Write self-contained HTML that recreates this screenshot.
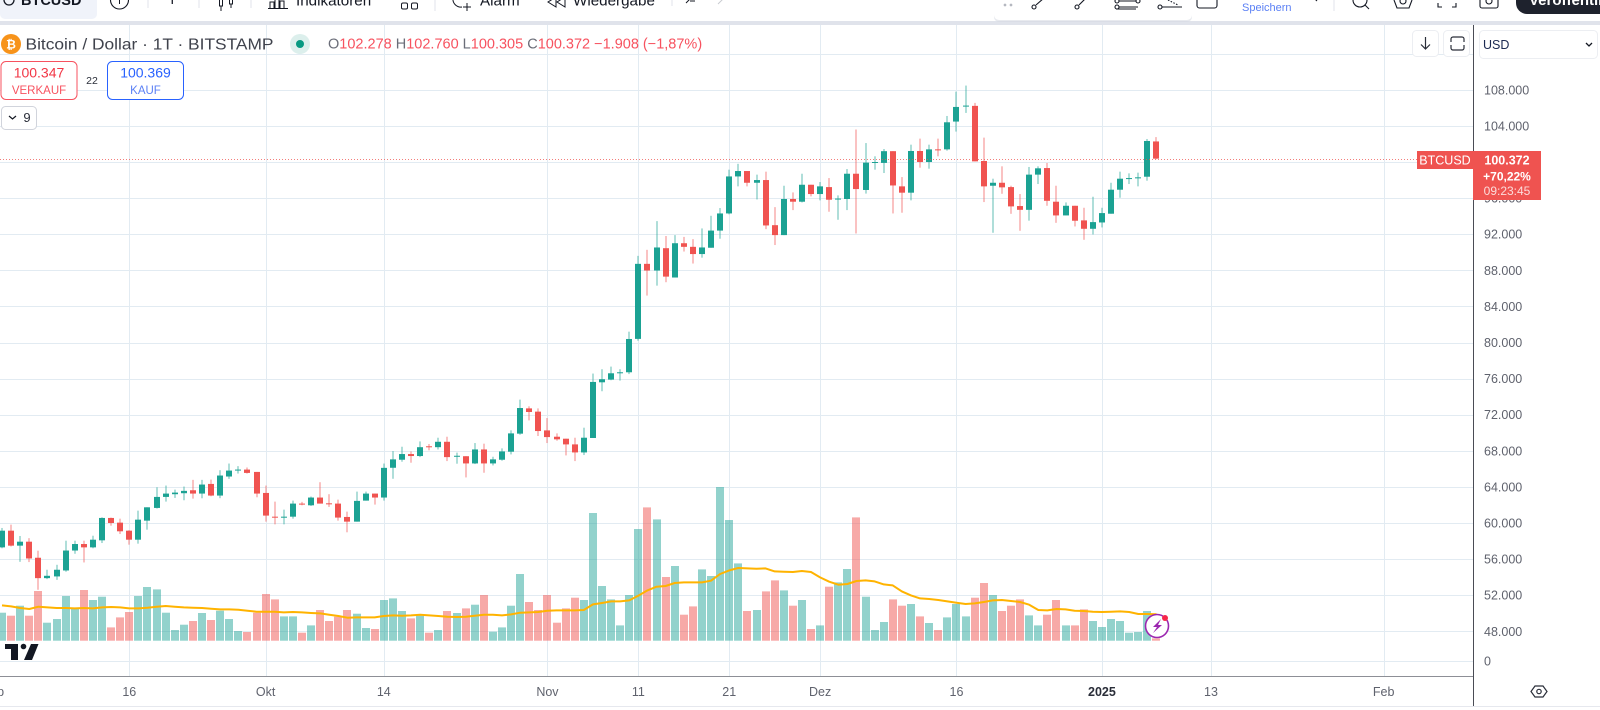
<!DOCTYPE html>
<html lang="de">
<head>
<meta charset="utf-8">
<title>BTCUSD Chart</title>
<style>
html,body{margin:0;padding:0;background:#fff;width:1600px;height:710px;overflow:hidden}
svg{display:block}
text{font-family:"Liberation Sans",sans-serif}
</style>
</head>
<body>
<svg id="chart" xmlns="http://www.w3.org/2000/svg" width="1600" height="710" viewBox="0 0 1600 710">
  <rect x="0" y="0" width="1600" height="710" fill="#ffffff"/>
  <g id="grid"></g>
  <g id="volumes"></g>
  <polyline id="maLine" fill="none" stroke="#ffb300" stroke-width="2" stroke-linejoin="round"/>
  <g id="candles"></g>
  <line id="priceLine" x1="0" x2="1417" stroke="#ef5350" stroke-width="1" stroke-dasharray="1 2" opacity="0.75"/>

  <!-- top toolbar -->
  <rect x="0" y="21" width="1600" height="4" fill="#e0e3eb"/>
  <rect x="0" y="-6" width="97" height="25" rx="5" fill="#f0f3fa"/>
  <circle cx="9" cy="0" r="5" fill="none" stroke="#131722" stroke-width="1.3"/>
  <text x="21" y="5" font-size="14.5" font-weight="700" fill="#131722">BTCUSD</text>
  <circle cx="119.5" cy="0" r="9" fill="none" stroke="#131722" stroke-width="1.1"/>
  <line x1="119.5" y1="-2" x2="119.5" y2="4" stroke="#131722"/>
  <line x1="148" y1="0" x2="148" y2="8" stroke="#e0e3eb"/>
  <text x="168" y="4" font-size="14" fill="#131722">T</text>
  <line x1="199" y1="0" x2="199" y2="8" stroke="#e0e3eb"/>
  <g fill="none" stroke="#131722">
    <rect x="219.5" y="-1" width="3" height="7"/><line x1="221" y1="6" x2="221" y2="11"/>
    <rect x="229.5" y="-1" width="3" height="5"/><line x1="231" y1="4" x2="231" y2="8"/>
  </g>
  <line x1="251" y1="0" x2="251" y2="8" stroke="#e0e3eb"/>
  <g fill="none" stroke="#131722">
    <path d="M268 8.5H288M270 8V2h4v6M275 8V-1h4v9M280 8V1h4v7"/>
  </g>
  <text x="296" y="5.5" font-size="15.2" fill="#131722">Indikatoren</text>
  <rect x="401.5" y="3" width="6" height="6" rx="1.5" fill="#fff" stroke="#131722"/>
  <rect x="411.5" y="3" width="6" height="6" rx="1.5" fill="#fff" stroke="#131722"/>
  <line x1="435" y1="0" x2="435" y2="11" stroke="#e0e3eb"/>
  <g fill="none" stroke="#131722">
    <path d="M453 -2a8 8 0 0 0 9 9"/><path d="M467 3v8M463 7h8"/>
  </g>
  <text x="480" y="5.5" font-size="15.2" fill="#131722">Alarm</text>
  <g fill="none" stroke="#131722">
    <path d="M556 -3l-8 5 8 5zM565 -3l-8 5 8 5z"/>
  </g>
  <text x="573" y="5.5" font-size="15.2" fill="#131722">Wiedergabe</text>
  <line x1="672" y1="0" x2="672" y2="6" stroke="#e0e3eb"/>
  <path d="M686 3l5-5M690 1h5" fill="none" stroke="#131722"/>
  <path d="M718 4l5-5" fill="none" stroke="#c9cbd1"/>

  <!-- floating drawing toolbar -->
  <rect x="994" y="-6" width="198" height="28" rx="5" fill="#d6d9e2" opacity=".55"/>
  <rect x="994" y="-8" width="198" height="28" rx="5" fill="#ffffff"/>
  <g fill="none" stroke="#131722" stroke-width="1.1">
    <circle cx="1005" cy="5" r=".8" stroke="#b2b5be"/><circle cx="1011" cy="5" r=".8" stroke="#b2b5be"/>
    <circle cx="1034" cy="7" r="2"/><path d="M1036 5l8-7"/>
    <circle cx="1077" cy="7" r="2"/><path d="M1079 5l8-8"/>
    <circle cx="1117" cy="1" r="2"/><circle cx="1117" cy="7" r="2"/><path d="M1119 1h17M1119 7h19M1116 9h20"/><circle cx="1138" cy="1" r="2"/>
    <circle cx="1160" cy="7" r="2"/><path d="M1162 7h20"/><path d="M1168 0l10 5" stroke-dasharray="1.5 1.5"/>
  </g>
  <rect x="1197" y="-6" width="20" height="14" rx="2.5" fill="none" stroke="#131722" stroke-width="1.1"/>
  <text x="1242" y="11" font-size="11" fill="#5b80f5">Speichern</text>
  <line x1="1334" y1="0" x2="1334" y2="11" stroke="#e0e3eb"/>
  <g fill="none" stroke="#131722" stroke-width="1.1">
    <path d="M1317 1l-2-2"/>
    <circle cx="1360" cy="0" r="7"/><path d="M1365 5l4 4"/>
    <path d="M1394 0l3 8h12l3-8"/><circle cx="1403" cy="1" r="3"/>
    <path d="M1438 3v4h4M1452 7h4V3"/>
    <rect x="1480" y="-4" width="18" height="12" rx="2"/><circle cx="1489" cy="1" r="3"/>
  </g>
  <rect x="1516" y="-12" width="100" height="26" rx="11" fill="#1e222d"/>
  <text x="1529" y="5" font-size="15" font-weight="700" fill="#ffffff">Veröffentlichen</text>

  <!-- legend -->
  <circle cx="11" cy="44" r="10" fill="#f7931a"/>
  <text x="11" y="48.5" font-size="12" font-weight="700" text-anchor="middle" fill="#ffffff">₿</text>
  <text x="25.5" y="49.5" font-size="16" fill="#3f424c" textLength="248" lengthAdjust="spacingAndGlyphs">Bitcoin / Dollar · 1T · BITSTAMP</text>
  <circle cx="300" cy="44" r="10" fill="#dcefec"/>
  <circle cx="300" cy="44" r="4" fill="#089981"/>
  <text x="328" y="48.5" font-size="14.5" fill="#f7525f"><tspan fill="#6a6d78">O</tspan>102.278 <tspan fill="#6a6d78">H</tspan>102.760 <tspan fill="#6a6d78">L</tspan>100.305 <tspan fill="#6a6d78">C</tspan>100.372 −1.908 (−1,87%)</text>

  <rect x="1" y="61.5" width="76" height="38" rx="5" fill="#ffffff" stroke="#f7525f"/>
  <text x="39" y="77.5" font-size="14" text-anchor="middle" fill="#f23645">100.347</text>
  <text x="39" y="94" font-size="11.5" text-anchor="middle" fill="#f7525f">VERKAUF</text>
  <text x="92" y="84" font-size="10.5" text-anchor="middle" fill="#2a2e39">22</text>
  <rect x="107.5" y="61.5" width="76" height="38" rx="5" fill="#ffffff" stroke="#2962ff"/>
  <text x="145.5" y="77.5" font-size="14" text-anchor="middle" fill="#2962ff">100.369</text>
  <text x="145.5" y="94" font-size="11.5" text-anchor="middle" fill="#5b80f5">KAUF</text>
  <rect x="1.5" y="106.5" width="35" height="23" rx="4" fill="#ffffff" stroke="#d1d4dc"/>
  <path d="M9 116l3.5 3 3.5-3" fill="none" stroke="#131722" stroke-width="1.2"/>
  <text x="27" y="122" font-size="13" text-anchor="middle" fill="#2a2e39">9</text>

  <!-- axes -->
  <line x1="0" y1="676.5" x2="1473" y2="676.5" stroke="#8d8f96"/>
  <line x1="0" y1="706.5" x2="1600" y2="706.5" stroke="#e6e8ee"/>
  <line x1="1473.5" y1="25" x2="1473.5" y2="706" stroke="#4a4c55"/>
  <g id="timeTicks"></g>
  <g id="priceTicks"></g>

  <!-- currency and chart buttons -->
  <rect x="1479.5" y="30.5" width="118" height="28" rx="4" fill="#ffffff" stroke="#eceef2"/>
  <text x="1483" y="49" font-size="12.5" fill="#1c2a52">USD</text>
  <path d="M1586 43l3 3 3-3" fill="none" stroke="#131722" stroke-width="1.3"/>
  <rect x="1412.5" y="30.5" width="26" height="26" rx="4" fill="#ffffff" stroke="#eceef2"/>
  <path d="M1425.5 37v12M1421 44.5l4.5 4.5 4.5-4.5" fill="none" stroke="#2a2e39" stroke-width="1.2"/>
  <rect x="1443.5" y="30.5" width="26" height="26" rx="4" fill="#ffffff" stroke="#eceef2"/>
  <path d="M1451 42v-3a2 2 0 0 1 2-2h9a2 2 0 0 1 2 2v3M1451 45v3a2 2 0 0 0 2 2h9a2 2 0 0 0 2-2v-3" fill="none" stroke="#2a2e39" stroke-width="1.2"/>

  <!-- last price labels -->
  <rect x="1417" y="151" width="56" height="18" fill="#ef5350"/>
  <text x="1445" y="164.5" font-size="12.5" text-anchor="middle" fill="#ffffff">BTCUSD</text>
  <rect x="1473" y="151" width="68" height="49" fill="#ef5350"/>
  <text id="lastPrice" x="1507" y="164.5" font-size="12.5" font-weight="700" text-anchor="middle" fill="#ffffff">100.372</text>
  <text x="1507" y="180.5" font-size="12" font-weight="700" text-anchor="middle" fill="#ffffff">+70,22%</text>
  <text x="1507" y="195" font-size="12" text-anchor="middle" fill="#fbdcdb">09:23:45</text>

  <!-- logo and badges -->
  <g fill="#131722">
    <path d="M5 644h13v16h-7v-11H5z"/>
    <circle cx="23.5" cy="646.5" r="2.8"/>
    <path d="M31 644h7.5l-6.5 16h-8z"/>
  </g>
  <circle cx="1157" cy="626" r="11.5" fill="#ffffff" stroke="#9c27b0" stroke-width="1.6"/>
  <path d="M1161 619l-8 8h4l-4 6 9-8h-4z" fill="#9c27b0"/>
  <circle cx="1165" cy="618" r="3" fill="#f7254a"/>
  <g fill="none" stroke="#2a2e39" stroke-width="1.2">
    <path d="M1535 686h8l4 5.5-4 5.5h-8l-4-5.5z"/><circle cx="1539" cy="691.5" r="2.2"/>
  </g>
</svg>

<script>
var firstDate = "2024-09-02";
var opens = [
  57300,59150,57490,57930,56150,53890,54080,54740,56950,57670,57300,58080,60560,60040,59150,58150,60260,61670,62890,63190,63300,63630,63260,64330,63040,65150,65850,65920,65660,
  63330,60700,60600,60700,62150,61960,62820,62180,62150,60670,60150,62480,63260,62820,66120,67010,67640,67420,68500,68400,69000,67350,67400,66600,68150,66600,67010,67900,69900,72700,72340,
  70260,69560,69340,68710,67820,69420,75590,75890,76590,76700,80400,88715,87975,90450,87200,91000,90600,89800,90500,92400,94300,98400,99000,97700,98000,93000,91900,95900,95600,97480,
  96450,97220,95900,95900,98700,96900,99930,99900,101200,97300,96600,101220,100000,101400,101400,104480,106150,106220,100110,97370,97700,97220,95120,94700,98600,99330,95600,94080,95150,93530,92600,
  93300,94270,96930,98150,98220,98370,102278
];
var highs = [
  59450,59820,58560,58320,56930,54820,55370,58040,58040,58040,58590,60630,60600,60480,59200,61370,61740,63960,64150,63700,64040,64780,64780,64810,65850,66590,66300,66150,65660,
  64150,62370,61480,62480,62340,62930,64520,63190,62590,61260,63480,63480,63260,66590,67970,68450,67930,69040,68750,69450,69560,67800,67400,68860,68790,67340,68270,70270,73670,72930,72700,
  71630,69930,69340,69450,70560,76560,77040,77330,77040,81200,89600,90270,93450,91800,91900,91700,91450,92640,94040,94900,99150,99800,99000,98600,98930,95000,97370,96630,98700,97480,
  97780,98220,96300,99220,103600,102100,100630,101440,101200,98330,101920,102590,101920,102590,105100,107800,108470,106550,102700,98150,99520,97370,96450,99450,99520,99890,97370,95520,95150,94930,96150,
  94930,97700,98930,98740,98820,102550,102760
];
var lows = [
  57200,57400,55700,55670,52600,53780,53700,54600,56590,55630,57200,57780,59700,58780,57600,57710,59260,61600,62370,62780,62520,62700,62740,62960,62750,64890,65480,65480,62850,
  60150,59850,59850,60480,61960,61890,62150,61780,60260,58970,60150,62480,62040,62480,64900,66790,66680,67300,68050,68150,66860,66570,65050,66530,65570,66380,66900,67600,69780,71370,69640,
  68860,69120,67490,66860,67530,69420,74600,75820,75780,76500,80200,85200,86300,86680,87200,90080,88750,89400,90500,91500,94200,97300,97300,95850,92560,90800,91900,94670,95520,96190,
  95750,94490,93600,94670,92080,96500,99150,98780,94300,94380,95750,99370,99260,100630,101260,103370,105440,100070,95560,92160,96480,94260,92380,93500,97560,95150,93260,94080,92860,91380,91970,
  92750,94270,96040,97560,97300,97930,100305
];
var closes = [
  59150,57490,57930,56070,53890,54150,54820,56950,57670,57300,58150,60560,60000,59080,58150,60370,61740,62890,63260,63370,63560,63260,64260,63040,65260,65810,65920,65550,63260,
  60820,60600,60700,62150,62070,62820,62150,62120,60600,60150,62450,63260,62820,66110,67050,67640,67420,68400,68400,69000,67300,67450,66600,68150,66600,67050,67930,69930,72740,72300,70190,
  69520,69270,68710,67820,69450,75630,75930,76590,76700,80390,88715,87975,90530,87300,91000,90600,89800,90530,92400,94300,98400,99000,97700,98000,92970,91900,95900,95600,97480,96450,
  97300,95820,95950,98700,97000,99930,100000,101200,97400,96600,101220,100000,101400,101350,104400,106100,106250,100070,97300,97700,97190,95080,94700,98600,99300,95700,94080,95150,93490,92600,93340,
  94340,96930,98150,98220,98300,102330,100372
];
var volumes = [
  28,25,35,25,49.7,18,21.7,44.7,31.7,50.7,40.7,44,13.3,23.3,28.7,44.7,53.7,51.3,28,10.7,16,19.7,27.7,20.7,30,21.7,9.7,8.7,28,
  46.7,41.3,24.3,24.3,8,15.3,30.7,19.7,24,30.7,27,12.7,11.7,40.7,42.3,29.7,22.3,25,8,10.7,29.7,27.7,32.3,36,45.7,9,13.3,35,66.7,38.7,30.7,
  45.7,18,32.3,43,40.7,127.7,54.7,41.3,15.3,45.7,111.7,133.3,121.3,63.7,74.7,26,34.3,71.3,64.7,153.7,120.7,77.3,29.7,30.7,49.3,60.3,50.3,35,40.7,11.7,
  15.3,54,58.3,71.7,123.3,44,10.7,18.7,41.3,35,36.7,24.3,17.7,10.7,23.3,36.7,24.3,43,57.7,45.7,29.7,35,41.3,25.3,15.3,26,40.7,15.3,15.3,31.3,19.7,
  13.7,21.7,19.7,8,8.7,29.7,2.3
];
var volumeMA = [
  35.3,34.3,32.7,31.7,34,33.3,32.7,32.7,32.3,32.7,32.3,33.3,33.7,33.3,32.3,32.3,33,34,34.7,34,33.3,33,32.7,32,31.3,31.3,31,30,29,
  29,29,28.3,28.7,28.3,27.7,27.3,26,24.7,23,23.3,23.3,23.3,24.7,25.3,25,25.3,26,25.3,24.7,24,23.7,24,25,26,26,25.3,26.3,28,28.3,28.7,
  30,30.3,30.3,30.3,30.7,36.3,37.7,39.3,39.3,40.3,45,50.3,54,54.7,57.7,58.3,58.3,58.3,60,66.7,70.3,72.7,72.3,72,72.3,69.3,69,68.7,69.7,68.7,
  63.3,59,56,56.7,59.7,60.3,59.3,56.3,55.3,49.3,45.3,42.3,41.7,40.7,39.3,38,36.7,37.3,38.7,40.3,40.7,39.7,38.7,36,30.7,30.3,31.7,31.3,30,29.7,29,
  28.7,29,29.3,28.7,26.7,26.7,26.5
];
var priceTickValues = [112000,108000,104000,100000,96000,92000,88000,84000,80000,76000,72000,68000,64000,60000,56000,52000,48000,0];
var priceTickLabels = ["112.000","108.000","104.000","100.000","96.000","92.000","88.000","84.000","80.000","76.000","72.000","68.000","64.000","60.000","56.000","52.000","48.000","0"];
var timeTickDates = ["2024-09-01","2024-09-16","2024-10-01","2024-10-14","2024-11-01","2024-11-11","2024-11-21","2024-12-01","2024-12-16","2025-01-01","2025-01-13","2025-02-01"];
var timeTickLabels = ["Sep","16","Okt","14","Nov","11","21","Dez","16","2025","13","Feb"];

var NS = "http://www.w3.org/2000/svg";
var DAY_MS = 86400000;
var firstMs = Date.parse(firstDate + "T00:00:00Z");

function dayX(dayIndex) { return 2.03 + 9.09 * dayIndex; }
function dateX(iso) { return dayX((Date.parse(iso + "T00:00:00Z") - firstMs) / DAY_MS); }
function priceY(p) {
  if (p >= 48000) return 89.8 + (108000 - p) / 4000 * 36.1;
  return 631.3 + (48000 - p) / 48000 * 29.7;
}
function volumeY(v) { return 640.7 - v; }
function make(tag, parent, attrs) {
  var el = document.createElementNS(NS, tag);
  for (var k in attrs) el.setAttribute(k, attrs[k]);
  parent.appendChild(el);
  return el;
}

var gridG = document.getElementById("grid");
var volG = document.getElementById("volumes");
var candleG = document.getElementById("candles");
var priceTickG = document.getElementById("priceTicks");
var timeTickG = document.getElementById("timeTicks");

priceTickValues.forEach(function (p, i) {
  var y = Math.round(priceY(p)) + 0.5;
  var line = make("line", gridG, { x1: 0, x2: 1473, y1: y, y2: y, stroke: "#e2ebf2", "stroke-width": 1 });
  
  
  var t = make("text", priceTickG, { x: 1484, y: priceY(p) + 4.5, "font-size": 12.5, fill: "#5f626d" });
  t.textContent = priceTickLabels[i];
  
  
});

timeTickDates.forEach(function (d, i) {
  var x = Math.round(dateX(d)) + 0.5;
  var line = make("line", gridG, { x1: x, x2: x, y1: 25, y2: 676, stroke: "#e2ebf2", "stroke-width": 1 });
  
  
  var bold = timeTickLabels[i] === "2025";
  var t = make("text", timeTickG, { x: dateX(d), y: 696, "font-size": 12.5, "text-anchor": "middle", fill: bold ? "#2a2e39" : "#5f626d", "font-weight": bold ? 700 : 400 });
  t.textContent = timeTickLabels[i];
  
  
});

var UP = "#1ba293";
var DOWN = "#f05350";
var maPoints = [];
closes.forEach(function (c, i) {
  var o = opens[i], x = dayX(i), up = c >= o, color = up ? UP : DOWN;
  var cx = Math.round(x);

  var vy = volumeY(volumes[i]);
  var bar = make("rect", volG, { x: cx - 4, y: vy, width: 8, height: Math.max(volumes[i], 0), fill: up ? "#26a69a" : "#ef5350", opacity: 0.5 });
  
  

  var wick = make("rect", candleG, { x: cx - 0.5, y: priceY(highs[i]), width: 1, height: priceY(lows[i]) - priceY(highs[i]), fill: color, opacity: 0.7 });
  
  

  var top = priceY(Math.max(o, c)), h = Math.max(Math.abs(priceY(o) - priceY(c)), 1);
  var body = make("rect", candleG, { x: cx - 3, y: top, width: 6, height: h, fill: color });
  
  

  maPoints.push(x.toFixed(1) + "," + volumeY(volumeMA[i]).toFixed(1));
});
document.getElementById("maLine").setAttribute("points", maPoints.join(" "));

var lastY = Math.round(priceY(closes[closes.length - 1])) + 0.5;
var pl = document.getElementById("priceLine");
pl.setAttribute("y1", lastY);
pl.setAttribute("y2", lastY);
</script>
</body>
</html>
